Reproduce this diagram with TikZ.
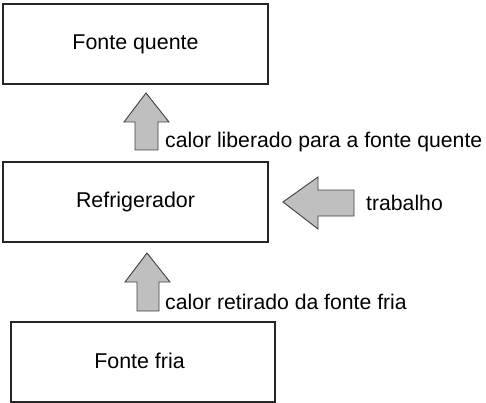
\documentclass[tikz,border=0pt]{standalone}
\usepackage{fontspec}
\setmainfont{Liberation Sans}
\begin{document}
\begin{tikzpicture}[x=1pt,y=-1pt,
  box/.style={draw=black!85,line width=1.1pt,minimum width=265pt,minimum height=80pt,inner sep=0pt,font=\fontsize{21.4}{25}\selectfont},
  lbl/.style={anchor=base west,inner sep=0pt,font=\fontsize{21.2}{25}\selectfont},
  blockarrow/.style={draw=black!75,line width=0.9pt,fill=black!25,line join=miter}]
\useasboundingbox (0,0) rectangle (486,403);
\node[box] (quente) at (135.5,44) {Fonte quente};
\node[box] (refri) at (135.5,202) {Refrigerador};
\node[box,minimum width=264pt] (fria) at (143,362) {};
\node[inner sep=0pt,font=\fontsize{21.4}{25}\selectfont] (friatxt) at (139.5,361) {Fonte fria};
% arrow up: liberado
\draw[blockarrow] (146,93) -- (169,122) -- (158,122) -- (158,150) -- (135,150) -- (135,122) -- (124,122) -- cycle;
\node[lbl] (lib) at (165,148) {calor liberado para a fonte quente};
% arrow left: trabalho
\draw[blockarrow] (283,202) -- (318,177) -- (318,190) -- (354,190) -- (354,216) -- (318,216) -- (318,229) -- cycle;
\node[lbl] (trab) at (366,210) {trabalho};
% arrow up: retirado
\draw[blockarrow] (147,253) -- (170,282) -- (159,282) -- (159,311) -- (137,311) -- (137,282) -- (125,282) -- cycle;
\node[lbl] (ret) at (165,309) {calor retirado da fonte fria};
\end{tikzpicture}
\end{document}
